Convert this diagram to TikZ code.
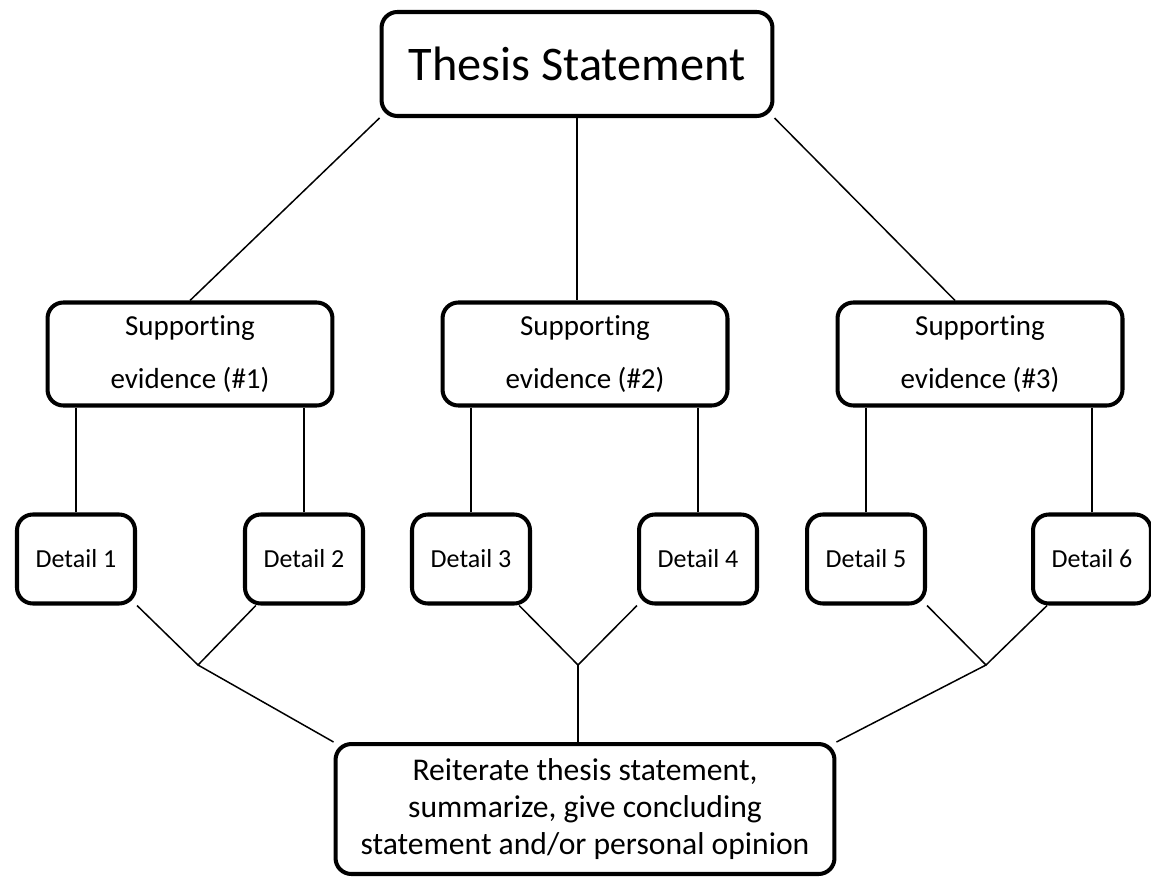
\documentclass[tikz,border=0pt]{standalone}
\usepackage{fontspec}
\setmainfont[RawFeature=-liga]{Carlito}
\usetikzlibrary{positioning}

\begin{document}
\begin{tikzpicture}[x=0.02cm,y=-0.02cm]
            \tikzset{
                box/.style={draw,line width=2.3pt,rounded corners=9pt,align=center,inner sep=0pt},
                thesisbox/.style={box,minimum width=7.82cm,minimum height=2.08cm,font=\fontsize{27.5}{32}\selectfont},
                evidbox/.style={box,minimum width=5.7cm,minimum height=2.06cm,font=\fontsize{16.5}{20}\selectfont},
                detailbox/.style={box,minimum width=2.36cm,minimum height=1.78cm,font=\fontsize{14.8}{17}\selectfont},
                endbox/.style={box,minimum width=9.98cm,minimum height=2.6cm,font=\fontsize{18}{21}\selectfont},
                link/.style={line width=0.85pt}}
            \useasboundingbox (0,0) rectangle (1151,878);
            \node[thesisbox] (thesis) at (577,64) {Thesis Statement};
            \foreach \i/\x in {1/190,2/585,3/980}
                \node[evidbox] (se\i) at (\x,354) {Supporting\\[10pt]evidence (\#\i)};
            \foreach \i/\x in {1/76,2/304,3/471,4/698,5/866,6/1092}
                \node[detailbox] (d\i) at (\x,559) {Detail \i};
            \node[endbox] (concl) at (585,809) {Reiterate thesis statement,\\summarize, give concluding\\statement and/or personal opinion};
            \coordinate (j1) at (198,665);
            \coordinate (j2) at (578,665);
            \coordinate (j3) at (986,665);
            % thesis to evidence
            \draw[link] (thesis.south west) -- (se1.north);
            \draw[link] (thesis.south) -- (thesis.south |- se2.north);
            \draw[link] (thesis.south east) -- (se3.115);
            \foreach \a/\b in {1/1,1/2,2/3,2/4,3/5,3/6}
                \draw[link] (d\b.north) -- (d\b.north |- se\a.south);
            % details to conclusion
            \draw[link] (d1.south east) -- (j1) -- (d2.224);
            \draw[link] (d3.316) -- (j2) -- (d4.south west);
            \draw[link] (d5.south east) -- (j3) -- (d6.226);
            \draw[link] (j1) -- (concl.north west);
            \draw[link] (j2) -- (j2 |- concl.north);
            \draw[link] (j3) -- (concl.north east);
        \end{tikzpicture}
\end{document}
